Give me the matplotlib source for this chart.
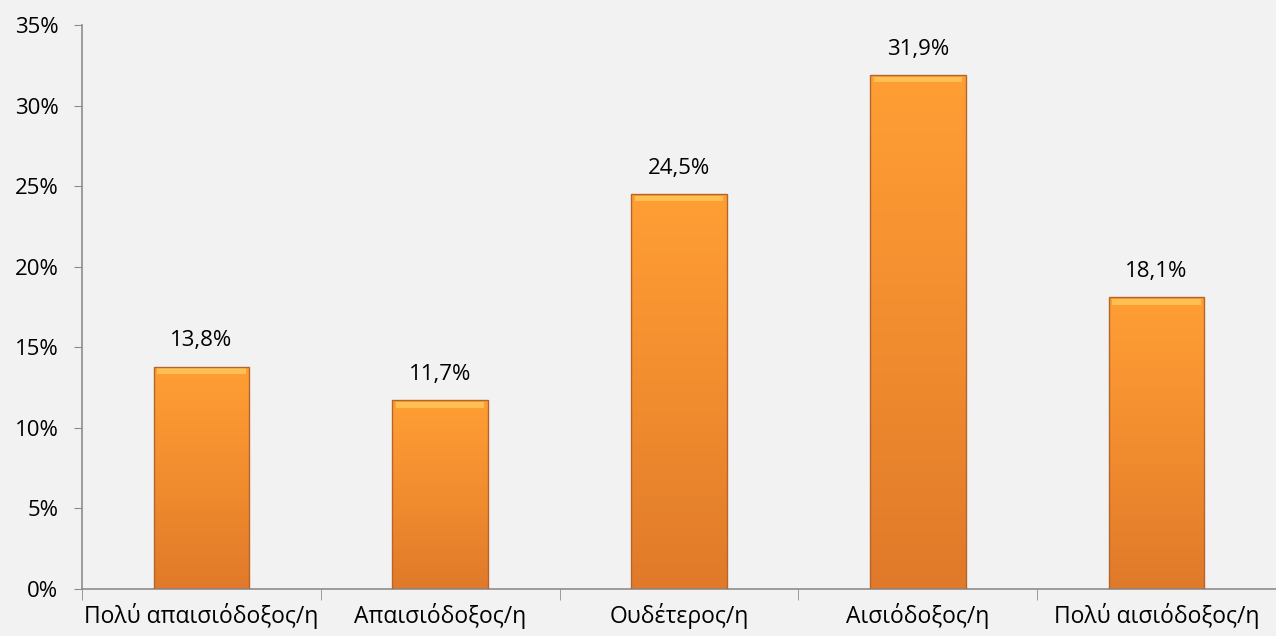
import numpy as np
import matplotlib
matplotlib.use("Agg")
from matplotlib import pyplot as plt
from matplotlib.colors import LinearSegmentedColormap

categories = ["Πολύ απαισιόδοξος/η", "Απαισιόδοξος/η", "Ουδέτερος/η",
              "Αισιόδοξος/η", "Πολύ αισιόδοξος/η"]
values = [13.8, 11.7, 24.5, 31.9, 18.1]
labels = ["13,8%", "11,7%", "24,5%", "31,9%", "18,1%"]
yticks = [0, 5, 10, 15, 20, 25, 30, 35]

plt.rcParams['font.family'] = ['Open Sans', 'DejaVu Sans']

W, H = 1276, 636
fig = plt.figure(figsize=(W / 100, H / 100), dpi=100, facecolor="#f2f2f2")
ax = fig.add_axes([82 / W, 1 - 589 / H, 1194 / W, (589 - 25) / H])
ax.set_facecolor("#f2f2f2")

x = np.arange(len(categories))
bw = 0.4
cmap = LinearSegmentedColormap.from_list("org", ["#e07a2a", "#f28d2f", "#ff9e34"])
bars = ax.bar(x, values, width=bw, color="none", edgecolor="#b5652c", linewidth=1.0, zorder=3)
for b, v in zip(bars, values):
    grad = np.linspace(0, 1, 100).reshape(-1, 1)
    x0 = b.get_x()
    im = ax.imshow(grad, cmap=cmap, origin="lower", aspect="auto",
                   extent=[x0, x0 + bw, 0, v], zorder=2)
    im.set_clip_path(b)
    # top highlight
    ax.fill_between([x0 + 0.015, x0 + bw - 0.015], v - 0.45, v - 0.1,
                    color="#ffd060", alpha=0.7, lw=0, zorder=2.5)

for xi, v, t in zip(x, values, labels):
    ax.text(xi, v + 0.95, t, ha="center", va="bottom", fontsize=16, color="#000000")

ax.set_xlim(-0.5, 4.475)
ax.set_ylim(0, 35)
ax.set_yticks(yticks)
ax.set_yticklabels([f"{t}%" for t in yticks], fontsize=16)
ax.set_xticks(x)
ax.set_xticklabels(categories, fontsize=16.5)
ax.tick_params(axis="x", length=0, pad=10)
ax.tick_params(axis="y", length=6, color="#8c8c8c", pad=11)
ax.set_xticks(np.arange(-0.5, 4.6, 1), minor=True)
ax.tick_params(axis="x", which="minor", length=8, color="#8c8c8c")
for s in ["top", "right"]:
    ax.spines[s].set_visible(False)
for s in ["left", "bottom"]:
    ax.spines[s].set_color("#8c8c8c")
    ax.spines[s].set_linewidth(1.2)

fig.savefig("out.png", dpi=100, facecolor=fig.get_facecolor())
